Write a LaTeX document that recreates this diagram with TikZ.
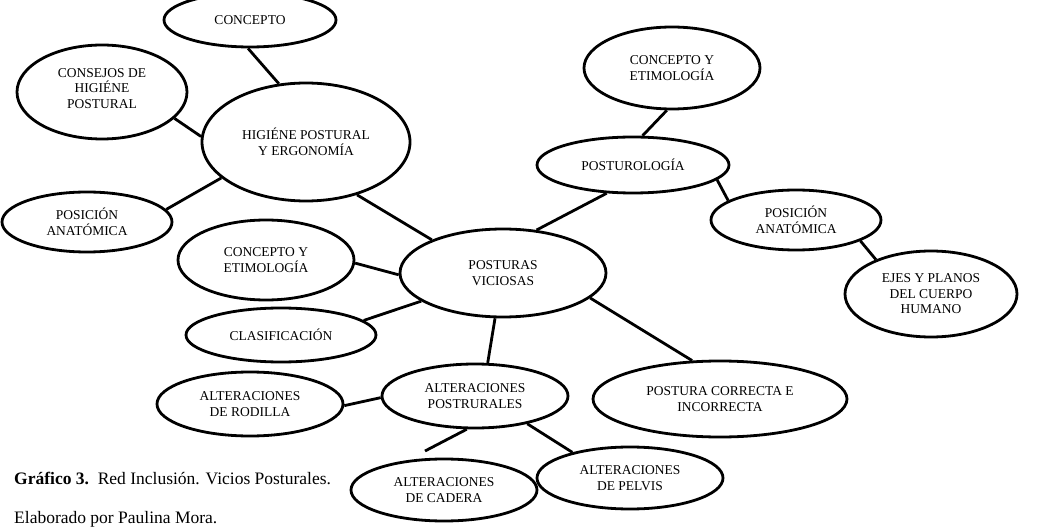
\documentclass[tikz,border=0pt]{standalone}
\usepackage{fontspec}
\setmainfont{Liberation Serif}
\usepackage{tikz}
\usetikzlibrary{shapes.geometric}
\newcommand{\mapfont}{\fontsize{13.5}{15.5}\selectfont}
\newcommand{\capfont}{\fontsize{17.5}{20}\selectfont}
\tikzset{
  mapnode/.style={
    draw=black,
    ellipse,
    line width=2.8pt,
    inner sep=0pt,
    align=center,
    font=\mapfont
  },
  mapline/.style={line width=2.8pt,draw=black},
  mapcaption/.style={anchor=base west,inner sep=0pt,font=\capfont}
}
\begin{document}
\begin{tikzpicture}[x=1pt,y=-1pt]
    \useasboundingbox (0,0) rectangle (1060,529);
    \node[mapnode,minimum width=172pt,minimum height=54pt] (concepto) at (250,20) {CONCEPTO};
    \node[mapnode,minimum width=170pt,minimum height=94pt] (consejos) at (102,92) {CONSEJOS DE\\HIGIÉNE\\POSTURAL\\[-8pt]};
    \node[mapnode,minimum width=208pt,minimum height=118pt] (higiene) at (306,142) {HIGIÉNE POSTURAL\\Y ERGONOMÍA};
    \node[mapnode,minimum width=170pt,minimum height=60pt] (posicionL) at (87,222) {POSICIÓN\\ANATÓMICA};
    \node[mapnode,minimum width=176pt,minimum height=80pt] (conceptoL) at (266,260) {CONCEPTO Y\\ETIMOLOGÍA};
    \node[mapnode,minimum width=190pt,minimum height=54pt] (clasificacion) at (281,335) {CLASIFICACIÓN};
    \node[mapnode,minimum width=206pt,minimum height=88pt] (posturas) at (503,273) {POSTURAS\\VICIOSAS};
    \node[mapnode,minimum width=176pt,minimum height=82pt] (conceptoR) at (672,68) {CONCEPTO Y\\ETIMOLOGÍA};
    \node[mapnode,minimum width=192pt,minimum height=56pt] (posturologia) at (633,165) {POSTUROLOGÍA};
    \node[mapnode,minimum width=170pt,minimum height=60pt] (posicionR) at (796,220) {POSICIÓN\\ANATÓMICA};
    \node[mapnode,minimum width=172pt,minimum height=86pt] (ejes) at (931,294) {EJES Y PLANOS\\DEL CUERPO\\HUMANO};
    \node[mapnode,minimum width=254pt,minimum height=76pt] (correcta) at (720,399) {POSTURA CORRECTA E\\INCORRECTA};
    \node[mapnode,minimum width=186pt,minimum height=64pt] (alteraciones) at (475,396) {ALTERACIONES\\POSTRURALES};
    \node[mapnode,minimum width=186pt,minimum height=64pt] (rodilla) at (250,404) {ALTERACIONES\\DE RODILLA};
    \node[mapnode,minimum width=186pt,minimum height=62pt] (cadera) at (444,490) {ALTERACIONES\\DE CADERA};
    \node[mapnode,minimum width=186pt,minimum height=62pt] (pelvis) at (630,478) {ALTERACIONES\\DE PELVIS};
    \coordinate (caderatip) at (425,451);
    \draw[mapline] (concepto.266) -- (higiene.115);
    \draw[mapline] (consejos.340) -- (higiene.177);
    \draw[mapline] (posicionL.9) -- (higiene.203);
    \draw[mapline] (higiene.314) -- (posturas.155);
    \draw[mapline] (conceptoL.358) -- (posturas.181);
    \draw[mapline] (clasificacion.10) -- (posturas.199);
    \draw[mapline] (posturas.52) -- (posturologia.227);
    \draw[mapline] (posturologia.72) -- (conceptoR.263);
    \draw[mapline] (posturologia.350) -- (posicionR.164);
    \draw[mapline] (posicionR.342) -- (ejes.148);
    \draw[mapline] (posturas.344) -- (correcta.126);
    \draw[mapline] (posturas.260) -- (alteraciones.69);
    \draw[mapline] (rodilla.359) -- (alteraciones.181);
    \draw[mapline] (alteraciones.256) -- (caderatip);
    \draw[mapline] (alteraciones.332) -- (pelvis.156);
    \node[mapcaption] (caption) at (14,484) {\textbf{Gráfico 3.}\ \ Red Inclusión. Vicios Posturales.};
    \node[mapcaption] (author) at (14,523) {Elaborado por Paulina Mora.};
  \end{tikzpicture}
\end{document}
